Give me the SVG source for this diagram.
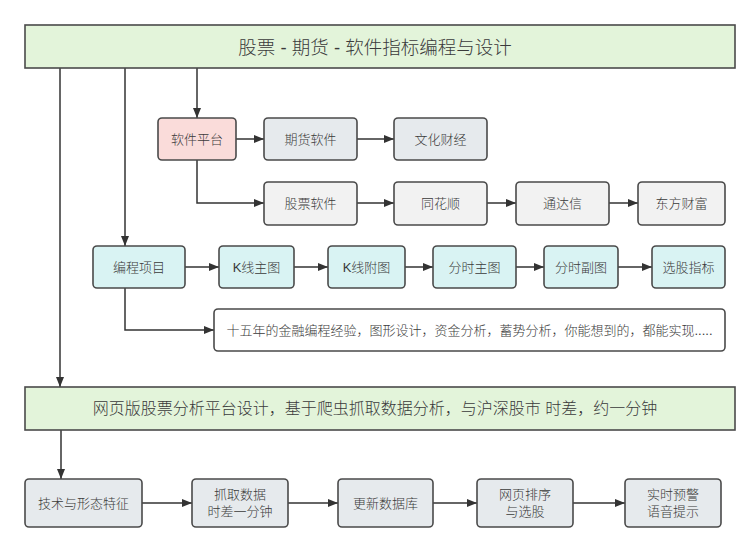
<svg xmlns="http://www.w3.org/2000/svg" width="750" height="551" viewBox="0 0 750 551">
<defs>
<style>
.n{stroke:#4a4a4a;stroke-width:1.6}
.g{fill:#e3f4da}
.p{fill:#fadcda}
.s{fill:#e6eaed}
.l{fill:#f2f2f2}
.c{fill:#d9f3f3}
.w{fill:#ffffff}
.t{font-family:"Liberation Sans","Noto Sans CJK SC",sans-serif;font-size:13px;font-weight:300;fill:#3a3a3a;text-anchor:middle;dominant-baseline:central}
.e{stroke:#333333;stroke-width:1.5;fill:none;marker-end:url(#a)}
</style>
<marker id="a" viewBox="0 0 10 10" refX="10" refY="5" markerWidth="10" markerHeight="10" markerUnits="userSpaceOnUse" orient="auto">
<path d="M0,1 L10,5 L0,9 Z" fill="#333333"/>
</marker>
</defs>
<rect width="750" height="551" fill="#ffffff"/>
<g id="connectors">
<path class="e" d="M60,68 V387"/>
<path class="e" d="M125,68 V246"/>
<path class="e" d="M197,68 V118"/>
<path class="e" d="M236,139 H264"/>
<path class="e" d="M357,139 H394"/>
<path class="e" d="M197,160 V203 H264"/>
<path class="e" d="M357,203 H394"/>
<path class="e" d="M487,203 H516"/>
<path class="e" d="M609,203 H638"/>
<path class="e" d="M185,267 H219"/>
<path class="e" d="M294,267 H328"/>
<path class="e" d="M405,267 H433"/>
<path class="e" d="M516,267 H544"/>
<path class="e" d="M618,267 H652"/>
<path class="e" d="M125,288 V330 H214"/>
<path class="e" d="M61,430 V479"/>
<path class="e" d="M142,503 H192"/>
<path class="e" d="M288,503 H338"/>
<path class="e" d="M433,503 H477"/>
<path class="e" d="M573,503 H625"/>
</g>
<g id="title"><rect class="n g" x="25" y="25" width="710" height="43"/><text class="t" x="375" y="47" style="font-size:18.5px">股票 - 期货 - 软件指标编程与设计</text></g>
<g id="n-platform"><rect class="n p" x="158" y="118" width="78" height="42" rx="4"/><text class="t" x="197" y="139">软件平台</text></g>
<g id="n-futures"><rect class="n s" x="264" y="118" width="93" height="42" rx="4"/><text class="t" x="310.5" y="139">期货软件</text></g>
<g id="n-wenhua"><rect class="n s" x="394" y="118" width="93" height="42" rx="4"/><text class="t" x="440.5" y="139">文化财经</text></g>
<g id="n-stock"><rect class="n l" x="264" y="182" width="93" height="43" rx="4"/><text class="t" x="310.5" y="203.5">股票软件</text></g>
<g id="n-ths"><rect class="n l" x="394" y="182" width="93" height="43" rx="4"/><text class="t" x="440.5" y="203.5">同花顺</text></g>
<g id="n-tdx"><rect class="n l" x="516" y="182" width="93" height="43" rx="4"/><text class="t" x="562.5" y="203.5">通达信</text></g>
<g id="n-dfcf"><rect class="n l" x="638" y="182" width="87" height="43" rx="4"/><text class="t" x="681.5" y="203.5">东方财富</text></g>
<g id="n-prog"><rect class="n c" x="93" y="246" width="92" height="42" rx="4"/><text class="t" x="139" y="267">编程项目</text></g>
<g id="n-kmain"><rect class="n c" x="219" y="246" width="75" height="42" rx="4"/><text class="t" x="256.5" y="267">K线主图</text></g>
<g id="n-ksub"><rect class="n c" x="328" y="246" width="77" height="42" rx="4"/><text class="t" x="366.5" y="267">K线附图</text></g>
<g id="n-tmain"><rect class="n c" x="433" y="246" width="83" height="42" rx="4"/><text class="t" x="474.5" y="267">分时主图</text></g>
<g id="n-tsub"><rect class="n c" x="544" y="246" width="74" height="42" rx="4"/><text class="t" x="581" y="267">分时副图</text></g>
<g id="n-pick"><rect class="n c" x="652" y="246" width="73" height="42" rx="4"/><text class="t" x="688.5" y="267">选股指标</text></g>
<g id="n-desc"><rect class="n w" x="214" y="309" width="511" height="42" rx="4"/><text class="t" x="469.5" y="330">十五年的金融编程经验，图形设计，资金分析，蓄势分析，你能想到的，都能实现.....</text></g>
<g id="web"><rect class="n g" x="25" y="387" width="710" height="43"/><text class="t" x="375" y="408.5" style="font-size:16px">网页版股票分析平台设计，基于爬虫抓取数据分析，与沪深股市 时差，约一分钟</text></g>
<g id="n-tech"><rect class="n s" x="25" y="479" width="117" height="48" rx="4"/><text class="t" x="83.5" y="503">技术与形态特征</text></g>
<g id="n-fetch"><rect class="n s" x="192" y="479" width="96" height="48" rx="4"/><text class="t" x="240" y="494.5">抓取数据</text><text class="t" x="240" y="511.5">时差一分钟</text></g>
<g id="n-db"><rect class="n s" x="338" y="479" width="95" height="48" rx="4"/><text class="t" x="385.5" y="503">更新数据库</text></g>
<g id="n-sort"><rect class="n s" x="477" y="479" width="96" height="48" rx="4"/><text class="t" x="525" y="494.5">网页排序</text><text class="t" x="525" y="511.5">与选股</text></g>
<g id="n-alert"><rect class="n s" x="625" y="479" width="96" height="48" rx="4"/><text class="t" x="673" y="494.5">实时预警</text><text class="t" x="673" y="511.5">语音提示</text></g>
</svg>
